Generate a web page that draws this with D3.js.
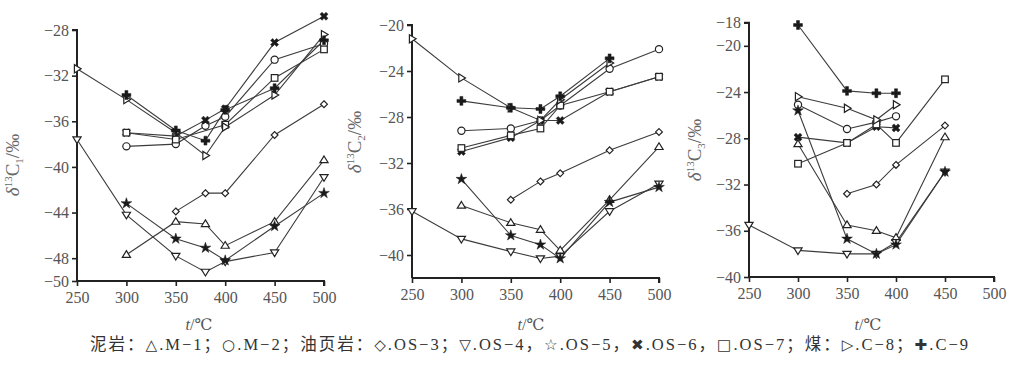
<!DOCTYPE html>
<html><head><meta charset="utf-8">
<script src="https://cdn.jsdelivr.net/npm/d3@7"></script>
<style>
html,body{margin:0;padding:0;background:#fff;}
svg{display:block;}
</style></head>
<body>
<svg id="chart" width="1013" height="369"></svg>
<script>
// ---- data ----
const temps = [250, 300, 350, 380, 400, 450, 500];
const seriesNames = ["M-1", "M-2", "OS-3", "OS-4", "OS-5", "OS-6", "OS-7", "C-8", "C-9"];
const seriesSymbols = ["triUp", "circle", "diamond", "triDown", "star", "x", "square", "triRight", "plus"];

// δ13C1 (panel 1), rows follow seriesNames, columns follow temps
const c1Rows = [
  [null, -47.7, -44.8, -45.0, -46.9, -44.8, -39.4],
  [null, -38.2, -38.0, -36.4, -35.6, -30.6, -29.2],
  [null, null, -43.9, -42.3, -42.3, -37.2, -34.5],
  [-37.6, -44.2, -47.8, -49.2, -48.3, -47.5, -40.9],
  [null, -43.2, -46.3, -47.1, -48.2, -45.2, -42.3],
  [null, -37.0, -37.3, -35.9, -34.9, -29.1, -26.8],
  [null, -37.0, -37.6, null, -36.3, -32.2, -29.7],
  [-31.4, -34.1, -37.0, -39.0, -36.5, -33.7, -28.4],
  [null, -33.7, -36.8, -37.7, -35.0, -33.1, -28.9]
];
// δ13C2 (panel 2)
const c2Rows = [
  [null, -35.7, -37.2, -37.8, -39.6, -35.2, -30.6],
  [null, -29.2, -29.0, -28.3, -27.0, -23.8, -22.1],
  [null, null, -35.2, -33.6, -32.9, -30.9, -29.3],
  [-36.2, -38.6, -39.7, -40.3, -40.1, -36.2, -33.8],
  [null, -33.4, -38.3, -39.1, -40.3, -35.4, -34.1],
  [null, -31.0, -29.8, -28.3, -28.3, -25.8, -24.5],
  [null, -30.7, -29.6, -29.0, -27.0, -25.8, -24.5],
  [-21.2, -24.6, -27.2, -28.3, -26.5, -23.3, null],
  [null, -26.6, -27.2, -27.3, -26.2, -22.9, null]
];
// δ13C3 (panel 3)
const c3Rows = [
  [null, -28.5, -35.5, -36.0, -36.6, -27.9, null],
  [null, -25.1, -27.2, -26.6, -26.1, null, null],
  [null, null, -32.8, -32.0, -30.3, -26.9, null],
  [-35.5, -37.7, -38.0, -38.0, -37.0, -30.9, null],
  [null, -25.6, -36.7, -38.0, -37.2, -30.9, null],
  [null, -27.9, -28.4, -27.0, -27.1, null, null],
  [null, -30.2, -28.4, -26.8, -28.4, -22.9, null],
  [null, -24.4, -25.4, -26.4, -25.1, null, null],
  [null, -18.2, -23.9, -24.1, -24.1, null, null]
];

const xTicks = [250, 300, 350, 400, 450, 500];
const c1Ticks = [-28, -32, -36, -40, -44, -48, -50];
const c2Ticks = [-20, -24, -28, -32, -36, -40];
const c3Ticks = [-18, -20, -24, -28, -32, -36, -40];
const yLabelSubs = ["1", "2", "3"];

// ---- layout ----
const panels = [
  {rows: c1Rows, ticks: c1Ticks, ydom: [-50, -28], x0: 77, x1: 324, yTop: 30, yBot: 281, sub: yLabelSubs[0], labX: 19, labY: 165, xLabX: 199},
  {rows: c2Rows, ticks: c2Ticks, ydom: [-42, -20], x0: 412, x1: 659, yTop: 25, yBot: 278, sub: yLabelSubs[1], labX: 361, labY: 142, xLabX: 531},
  {rows: c3Rows, ticks: c3Ticks, ydom: [-40, -18], x0: 749, x1: 994, yTop: 22.7, yBot: 277, sub: yLabelSubs[2], labX: 701, labY: 150, xLabX: 868}
];

const svg = d3.select("#chart");
const serif = "'Liberation Serif','DejaVu Serif',serif";
const fmt = d => String(d).replace("-", "\u2212");
const lineCol = "#3c3c3c";
const axisCol = "#222";
const txtCol = "#555";

function drawSymbol(g, type, cx, cy) {
  const s = 3.6;
  let el;
  const open = {fill: "#fff", stroke: "#222", "stroke-width": 1.2};
  const solid = {fill: "#1a1a1a", stroke: "#1a1a1a", "stroke-width": 0.5};
  const apply = (e, a) => { Object.entries(a).forEach(([k, v]) => e.attr(k, v)); return e; };
  switch (type) {
    case "triUp":
      el = g.append("path").attr("d", `M${cx},${cy - s - 0.5}L${cx + s + 0.5},${cy + s - 1}L${cx - s - 0.5},${cy + s - 1}Z`); apply(el, open); break;
    case "triDown":
      el = g.append("path").attr("d", `M${cx},${cy + s + 0.5}L${cx + s + 0.5},${cy - s + 1}L${cx - s - 0.5},${cy - s + 1}Z`); apply(el, open); break;
    case "triRight":
      el = g.append("path").attr("d", `M${cx + s + 0.5},${cy}L${cx - s + 1},${cy - s - 0.5}L${cx - s + 1},${cy + s + 0.5}Z`); apply(el, open); break;
    case "circle":
      el = g.append("circle").attr("cx", cx).attr("cy", cy).attr("r", s); apply(el, open); break;
    case "diamond":
      el = g.append("path").attr("d", `M${cx},${cy - 3.4}L${cx + 3.4},${cy}L${cx},${cy + 3.4}L${cx - 3.4},${cy}Z`); apply(el, open); break;
    case "square":
      el = g.append("rect").attr("x", cx - 3.3).attr("y", cy - 3.3).attr("width", 6.6).attr("height", 6.6); apply(el, open); break;
    case "star":
      el = g.append("path").attr("d", d3.symbol(d3.symbolStar, 36)()).attr("transform", `translate(${cx},${cy})`); apply(el, solid); break;
    case "x":
      el = g.append("path").attr("d", d3.symbol(d3.symbolCross, 40)()).attr("transform", `translate(${cx},${cy}) rotate(45)`); apply(el, solid); break;
    case "plus":
      el = g.append("path").attr("d", d3.symbol(d3.symbolCross, 44)()).attr("transform", `translate(${cx},${cy})`); apply(el, solid); break;
  }
}

panels.forEach(p => {
  const x = d3.scaleLinear().domain([250, 500]).range([p.x0, p.x1]);
  const y = d3.scaleLinear().domain(p.ydom).range([p.yBot, p.yTop]);
  const g = svg.append("g");

  const yAxis = d3.axisLeft(y).tickValues(p.ticks).tickSize(5).tickPadding(3).tickFormat(fmt);
  const ga = g.append("g").attr("transform", `translate(${p.x0},0)`).call(yAxis);
  const xAxis = d3.axisBottom(x).tickValues(xTicks).tickSize(5).tickPadding(6).tickFormat(d => d);
  const gx = g.append("g").attr("transform", `translate(0,${p.yBot})`).call(xAxis);
  [ga, gx].forEach(a => {
    a.select(".domain").attr("stroke", axisCol).attr("stroke-width", 2);
    a.selectAll(".tick line").attr("stroke", axisCol).attr("stroke-width", 1.6);
    a.selectAll(".tick text").attr("fill", txtCol).style("font-family", serif).style("font-size", "16px");
  });
  ga.select(".domain").attr("d", `M-5,${p.yTop}H0V${p.yBot}`);
  gx.select(".domain").attr("d", `M${p.x0},0H${p.x1}V5`);

  const line = d3.line().x(d => x(d[0])).y(d => y(d[1]));
  p.rows.forEach(row => {
    const pts = temps.map((t, j) => [t, row[j]]).filter(d => d[1] !== null);
    g.append("path").datum(pts).attr("d", line).attr("fill", "none").attr("stroke", lineCol).attr("stroke-width", 1.1);
  });
  p.rows.forEach((row, i) => {
    temps.forEach((t, j) => {
      if (row[j] !== null) drawSymbol(g, seriesSymbols[i], x(t), y(row[j]));
    });
  });

  const yl = g.append("text").attr("transform", `translate(${p.labX},${p.labY}) rotate(-90)`)
    .attr("text-anchor", "middle").attr("fill", "#666").style("font-family", serif).style("font-size", "19px");
  yl.append("tspan").style("font-style", "italic").text("δ");
  yl.append("tspan").attr("dy", -7).style("font-size", "11px").text("13");
  yl.append("tspan").attr("dy", 7).text("C");
  yl.append("tspan").attr("dy", 4).style("font-size", "11px").text(p.sub);
  yl.append("tspan").attr("dy", -4).text("/‰");

  const xl = g.append("text").attr("x", p.xLabX).attr("y", 330).attr("text-anchor", "middle")
    .attr("fill", txtCol).style("font-family", serif).style("font-size", "16px");
  xl.append("tspan").style("font-style", "italic").text("t");
  xl.append("tspan").text("/℃");
});

// legend
const legendParts = [
  ["泥岩：", 0], ["△", 1], [".M-1；", 0], ["○", 1], [".M-2；", 0], ["油页岩：", 0], ["◇", 1], [".OS-3；", 0],
  ["▽", 1], [".OS-4，", 0], ["☆", 1], [".OS-5，", 0], ["✖", 1], [".OS-6，", 0], ["□", 1], [".OS-7；", 0],
  ["煤：", 0], ["▷", 1], [".C-8；", 0], ["✚", 1], [".C-9", 0]
];
const lg = svg.append("text").attr("x", 90).attr("y", 350).attr("fill", "#333")
  .style("font-family", "'Liberation Serif','Noto Sans CJK SC',serif").style("font-size", "16.5px");
legendParts.forEach(([t, sym]) => {
  const ts = lg.append("tspan").text(t.replace(/-/g, "\u2212"));
  if (sym) ts.style("font-family", "'DejaVu Sans',sans-serif").style("font-size", "0.92em");
});
const natural = lg.node().getComputedTextLength();
if (natural > 0 && natural < 878) {
  lg.attr("textLength", 878).attr("lengthAdjust", "spacing");
}
</script>
</body></html>
